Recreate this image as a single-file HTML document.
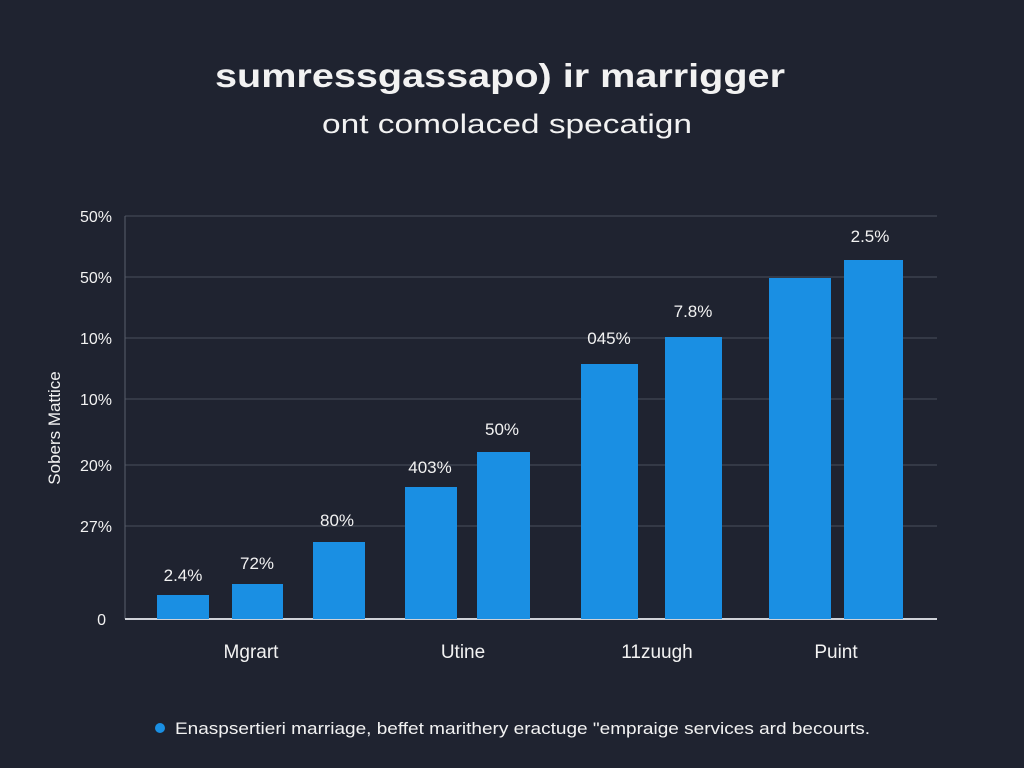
<!DOCTYPE html>
<html><head><meta charset="utf-8"><style>
html,body{margin:0;padding:0;background:#1f2330;width:1024px;height:768px;overflow:hidden}
svg{display:block}
text{font-family:"Liberation Sans",sans-serif;fill:#f2f2f2}
</style></head><body>
<svg width="1024" height="768" viewBox="0 0 1024 768">
<rect width="1024" height="768" fill="#1f2330"/>
<text x="215" y="87" font-size="33" font-weight="bold" textLength="570" lengthAdjust="spacingAndGlyphs">sumressgassapo) ir marrigger</text>
<text x="322" y="133" font-size="27" textLength="370" lengthAdjust="spacingAndGlyphs">ont comolaced specatign</text>
<g stroke="#4a4f5c" stroke-width="1">
<line x1="125" y1="216" x2="937" y2="216"/>
<line x1="125" y1="277" x2="937" y2="277"/>
<line x1="125" y1="338" x2="937" y2="338"/>
<line x1="125" y1="399" x2="937" y2="399"/>
<line x1="125" y1="465" x2="937" y2="465"/>
<line x1="125" y1="526" x2="937" y2="526"/>
</g>
<line x1="125" y1="216" x2="125" y2="619" stroke="#5a5f6c"/>
<line x1="125" y1="619" x2="937" y2="619" stroke="#cfd2d8" stroke-width="2"/>
<g font-size="16" text-anchor="end">
<text x="112" y="222">50%</text>
<text x="112" y="283">50%</text>
<text x="112" y="344">10%</text>
<text x="112" y="405">10%</text>
<text x="112" y="471">20%</text>
<text x="112" y="532">27%</text>
<text x="106" y="625">0</text>
</g>
<text transform="translate(60,428) rotate(-90)" font-size="17" text-anchor="middle">Sobers Mattice</text>
<g fill="#1a8fe3">
<rect x="157" y="595" width="52" height="24"/>
<rect x="232" y="584" width="51" height="35"/>
<rect x="313" y="542" width="52" height="77"/>
<rect x="405" y="487" width="52" height="132"/>
<rect x="477" y="452" width="53" height="167"/>
<rect x="581" y="364" width="57" height="255"/>
<rect x="665" y="337" width="57" height="282"/>
<rect x="769" y="278" width="62" height="341"/>
<rect x="844" y="260" width="59" height="359"/>
</g>
<g font-size="17" text-anchor="middle">
<text x="183" y="581">2.4%</text>
<text x="257" y="569">72%</text>
<text x="337" y="526">80%</text>
<text x="430" y="473">403%</text>
<text x="502" y="435">50%</text>
<text x="609" y="344">045%</text>
<text x="693" y="317">7.8%</text>
<text x="870" y="242">2.5%</text>
</g>
<g font-size="19" text-anchor="middle">
<text x="251" y="658">Mgrart</text>
<text x="463" y="658">Utine</text>
<text x="657" y="658">11zuugh</text>
<text x="836" y="658">Puint</text>
</g>
<circle cx="160" cy="728" r="5" fill="#1a8fe3"/>
<text x="175" y="734" font-size="17" textLength="695" lengthAdjust="spacingAndGlyphs">Enaspsertieri marriage, beffet marithery eractuge "empraige services ard becourts.</text>
</svg>
</body></html>
